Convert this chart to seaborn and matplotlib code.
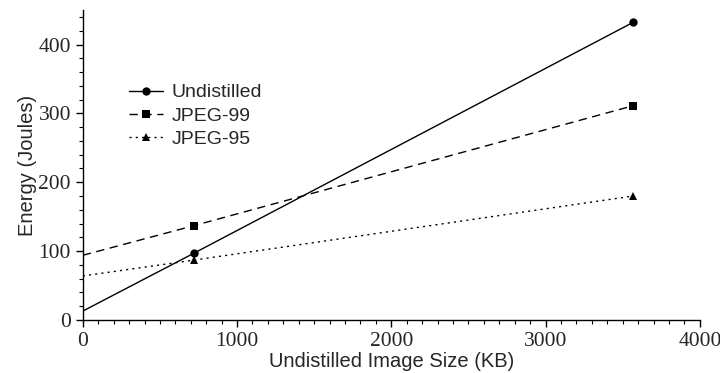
import numpy as np
import matplotlib
matplotlib.use("Agg")
import matplotlib.pyplot as plt
import seaborn as sns
from matplotlib.ticker import MultipleLocator

# Data (x=0 is the fitted intercept, no marker there)
sizes_kb = [0, 720, 3566]
undistilled = [13, 97, 432]
jpeg_99 = [94, 137, 311]
jpeg_95 = [64, 87, 180]
series_names = ["Undistilled", "JPEG-99", "JPEG-95"]

sns.set_style("ticks")
plt.rcParams['font.family'] = ['Liberation Sans', 'DejaVu Sans']

fig = plt.figure(figsize=(7.2, 3.73), dpi=100)
ax = fig.add_axes([0.115, 0.142, 0.857, 0.831])

styles = [
    dict(linestyle='-', marker='o', markersize=6),
    dict(linestyle=(0, (6, 4)), marker='s', markersize=6),
    dict(linestyle=(0, (1.5, 3)), marker='^', markersize=6),
]
for name, vals, st in zip(series_names, [undistilled, jpeg_99, jpeg_95], styles):
    sns.lineplot(x=sizes_kb, y=vals, ax=ax, color='black', linewidth=1.0,
                 markevery=[1, 2], label=name, markeredgewidth=0, **st)

ax.set_xlim(0, 4000)
ax.set_ylim(0, 450)
ax.xaxis.set_major_locator(MultipleLocator(1000))
ax.xaxis.set_minor_locator(MultipleLocator(100))
ax.yaxis.set_major_locator(MultipleLocator(100))
ax.yaxis.set_minor_locator(MultipleLocator(20))
ax.tick_params(which='major', direction='out', length=5, width=1, color='black')
ax.tick_params(which='minor', direction='out', length=3, width=0.8, color='black')
for lab in ax.get_xticklabels() + ax.get_yticklabels():
    lab.set_fontfamily('Liberation Serif')
    lab.set_fontsize(15.5)

for side in ['top', 'right']:
    ax.spines[side].set_visible(False)
for side in ['left', 'bottom']:
    ax.spines[side].set_linewidth(1.0)
    ax.spines[side].set_color('black')

ax.set_xlabel('Undistilled Image Size (KB)', fontsize=14.5, labelpad=1)
ax.set_ylabel('Energy (Joules)', fontsize=14.5, labelpad=1)

ax.legend(loc='upper left', bbox_to_anchor=(0.063, 0.787), frameon=False,
          fontsize=14, handlelength=1.75, handletextpad=0.4, labelspacing=0.28,
          borderaxespad=0)

fig.savefig('out.png', dpi=100)
